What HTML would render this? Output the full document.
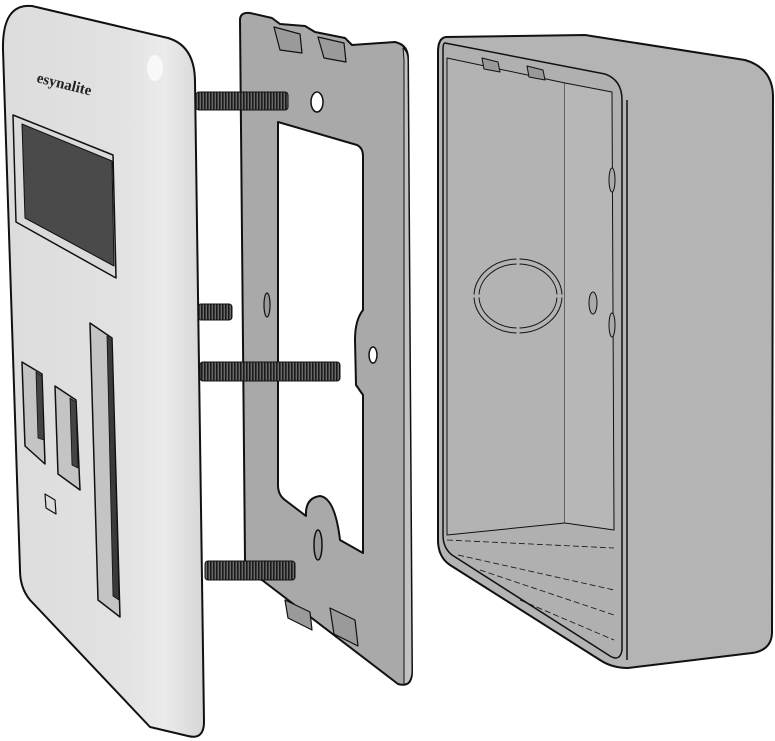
<!DOCTYPE html>
<html><head><meta charset="utf-8"><style>
html,body{margin:0;padding:0;background:#fff;width:775px;height:741px;overflow:hidden}
svg{display:block}
</style></head><body>
<svg width="775" height="741" viewBox="0 0 775 741" xmlns="http://www.w3.org/2000/svg">
<defs>
<pattern id="thr" width="3" height="20" patternUnits="userSpaceOnUse">
<rect width="3" height="20" fill="#6a6a6a"/><rect width="1.6" height="20" fill="#1a1a1a"/>
</pattern>
<linearGradient id="cov" x1="0" y1="0" x2="1" y2="0">
<stop offset="0" stop-color="#dcdcdc"/><stop offset="0.6" stop-color="#e2e2e2"/><stop offset="0.8" stop-color="#ebebeb"/><stop offset="1" stop-color="#d6d6d6"/>
</linearGradient>
</defs>
<g stroke="#111" stroke-width="2" stroke-linejoin="round">
<!-- Box -->
<path d="M446 37 L585 35 L745 60 Q772 68 773 95 L772 632 Q772 650 752 653 L628 668 Q612 668 600 660 L450 565 Q438 557 438 540 L438 52 Q438 38 446 37 Z" fill="#b4b4b4"/>
<path d="M445 43 L605 74 Q622 80 622 100 L622 650 Q620 662 610 656 L452 555 Q443 548 443 535 L443 50 Q443 43 445 43 Z" fill="#b0b0b0" stroke-width="1.5"/>
<path d="M447 58 L565 83 L565 523 L447 535 Z" fill="#b3b3b3" stroke-width="1"/>
<path d="M565 83 L612 92 L614 530 L565 523" fill="#b7b7b7" stroke-width="1"/>
<path d="M627 100 L627 660" stroke-width="1.5"/>
<path d="M447 540 L614 548 M458 555 L614 590 M480 570 L614 615 M520 600 L614 640" stroke-width="0.8" stroke-dasharray="6 3" fill="none"/>
<!-- knockout -->
<ellipse cx="518" cy="296" rx="44" ry="37" fill="none" stroke-width="1"/>
<ellipse cx="518" cy="296" rx="39" ry="32" fill="none" stroke-width="1"/>
<path d="M518 257 L518 335 M472 296 L564 296" stroke="#b3b3b3" stroke-width="3"/>
<ellipse cx="593" cy="303" rx="4" ry="11" fill="#aaa" stroke-width="1"/>
<ellipse cx="612" cy="180" rx="3" ry="12" fill="#aaa" stroke-width="1"/>
<ellipse cx="612" cy="325" rx="3" ry="12" fill="#aaa" stroke-width="1"/>
<path d="M482 58 L498 62 L500 72 L484 69 Z M527 66 L543 70 L545 80 L529 77 Z" fill="#999" stroke-width="1"/>
<!-- Plate -->
<path d="M240 20 Q240 12 250 13 L272 18 L280 24 L305 26 L315 32 L345 38 L352 45 L395 42 Q408 45 408 58 L412 672 Q412 688 398 684 L262 580 Q245 576 245 560 Z" fill="#a9a9a9"/>
<path d="M403 48 Q408 52 408 60 L412 672 Q411 684 404 684 L404 60 Z" fill="#c2c2c2" stroke-width="1"/>
<path d="M278 122 L357 145 Q363 148 363 156 L363 310 Q355 320 355 340 L356 385 L363 395 L363 553 L340 540 Q335 498 320 496 Q305 498 306 516 L285 500 Q278 495 278 485 Z" fill="#fff"/>
<ellipse cx="317" cy="102" rx="6" ry="10" fill="#fff" stroke-width="1.5"/>
<ellipse cx="373" cy="355" rx="4" ry="8" fill="#fff" stroke-width="1.5"/>
<ellipse cx="318" cy="545" rx="4" ry="15" fill="#999" stroke-width="1.5"/>
<ellipse cx="267" cy="305" rx="3" ry="12" fill="#999" stroke-width="1.2"/>
<path d="M274 27 L300 34 L302 53 L280 50 Z M318 37 L344 43 L346 62 L324 58 Z" fill="#9a9a9a" stroke-width="1.2"/>
<path d="M285 600 L310 612 L312 630 L288 618 Z M330 608 L355 620 L358 646 L334 634 Z" fill="#9a9a9a" stroke-width="1.2"/>
<!-- Screws -->
<rect x="196" y="92" width="92" height="18" rx="3" fill="url(#thr)" stroke-width="1"/>
<rect x="198" y="304" width="34" height="16" rx="3" fill="url(#thr)" stroke-width="1"/>
<rect x="200" y="362" width="140" height="19" rx="3" fill="url(#thr)" stroke-width="1"/>
<rect x="205" y="561" width="90" height="19" rx="3" fill="url(#thr)" stroke-width="1"/>
<!-- Cover -->
<path d="M32 6 L168 38 Q195 46 195 82 L204 722 Q204 740 188 736 L150 727 L30 600 Q20 588 20 570 L3 50 Q2 3 32 6 Z" fill="url(#cov)"/>
<ellipse cx="155" cy="68" rx="8" ry="13" fill="#f8f8f8" stroke="none"/>
<text x="36" y="82" font-family="Liberation Serif, serif" font-size="15" font-weight="bold" fill="#222" stroke="none" transform="rotate(14 36 82)">esynalite</text>
<path d="M13 115 L113 155 L116 278 L16 222 Z" fill="#dadada" stroke-width="1.5"/>
<path d="M22 124 L112 161 L114 266 L25 218 Z" fill="#4a4a4a" stroke-width="1"/>
<path d="M22 362 L42 374 L45 464 L25 446 Z" fill="#c4c4c4" stroke-width="1.5"/>
<path d="M36 372 L42 376 L44 440 L38 438 Z" fill="#444" stroke-width="0.8"/>
<path d="M55 386 L76 400 L80 490 L58 474 Z" fill="#c4c4c4" stroke-width="1.5"/>
<path d="M70 398 L76 402 L78 468 L72 465 Z" fill="#444" stroke-width="0.8"/>
<path d="M90 323 L112 338 L120 617 L98 600 Z" fill="#c4c4c4" stroke-width="1.5"/>
<path d="M107 336 L112 340 L119 600 L113 596 Z" fill="#3a3a3a" stroke-width="0.8"/>
<path d="M45 494 L55 500 L56 514 L46 508 Z" fill="#ddd" stroke-width="1.2"/>
</g>
</svg>
</body></html>
